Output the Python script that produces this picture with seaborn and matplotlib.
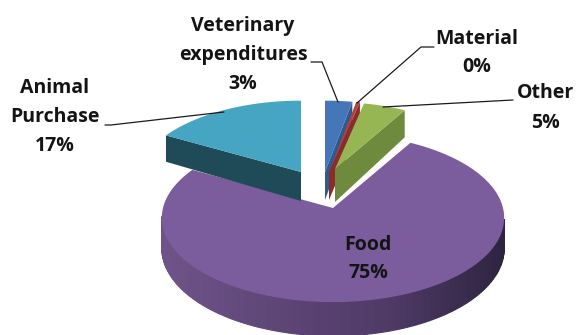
import numpy as np
import matplotlib
matplotlib.use("Agg")
import matplotlib.pyplot as plt
import seaborn as sns

# Cost shares in percent, clockwise from twelve o'clock
categories = ["Veterinary\nexpenditures", "Material", "Other", "Food", "Animal\nPurchase"]
shares = [3, 0.4, 5, 75, 17]
top_colors = ["#4577B8", "#B5403B", "#95B653", "#7B5C9C", "#46A5C3"]
side_colors = ["#2F5A8F", "#8A2C29", "#6E8A3C", "#5A4272", "#1F4A57"]

# Exploded slice layout on the canvas: apex x, apex y, radius scale
apex_x = [325, 329, 335, 333, 301]
apex_y = [172, 172, 169, 208, 172]
radius_scale = [0.96, 0.96, 0.90, 1.00, 0.96]
wall_height = [28, 28, 33, 30, 29]

RX, RY, PERSPECTIVE = 170, 83, 0.117

sns.set_theme(style="white")
plt.rcParams["font.family"] = ["Open Sans", "DejaVu Sans"]
wall_ramp = sns.blend_palette(["#6E5389", "#5E4677", "#4F3A66", "#2E2440"], 200)


def project(theta, ax0, ay0, scale=1.0):
    """Project clockwise angles on the tilted disc to canvas coordinates."""
    u, v = np.sin(theta), np.cos(theta)
    s = scale / (1 + PERSPECTIVE * v)
    return ax0 + RX * u * s, ay0 - RY * v * s, s


fig = plt.figure(figsize=(5.77, 3.35), dpi=100)
ax = fig.add_axes([0, 0, 1, 1])
ax.set_xlim(0, 577)
ax.set_ylim(335, 0)
ax.axis("off")

edges = np.cumsum([0] + shares) / sum(shares) * 2 * np.pi
draw_order = [3, 4, 0, 1, 2]

for z, i in enumerate(draw_order):
    start, end = edges[i], edges[i + 1]
    cx, cy, scale, h = apex_x[i], apex_y[i], radius_scale[i], wall_height[i]
    theta = np.linspace(start, end, 240)
    x, y, s = project(theta, cx, cy, scale)

    if i == 3:
        # Front rim of the large slice, shaded from the lit left side to the dark right side
        for k in range(len(theta) - 1):
            if np.cos(theta[k]) > -PERSPECTIVE:
                continue
            shade = int(np.clip((x[k] - (cx - RX)) / (2 * RX), 0, 1) * 199)
            c = wall_ramp[shade]
            ax.fill(
                [x[k], x[k + 1], x[k + 1], x[k]],
                [y[k], y[k + 1], y[k + 1] + h * s[k + 1], y[k] + h * s[k]],
                facecolor=c, edgecolor=c, lw=0.8, zorder=z * 3 + 1,
            )
    else:
        # Radial cut face that looks toward the viewer
        face = len(theta) - 1 if i != 4 else 0
        px, py = x[face], y[face]
        ax.fill(
            [cx, px, px, cx],
            [cy, py, py + h * s[face], cy + h],
            color=side_colors[i], lw=0, zorder=z * 3 + 1,
        )

    ax.fill(
        np.r_[cx, x], np.r_[cy, y],
        color=top_colors[i], lw=0, zorder=z * 3 + 2,
    )

text_kw = dict(ha="center", va="center", fontsize=14, fontweight="bold",
               color="#141414", linespacing=1.6, zorder=40)
label_x = [243, 477, 545, 368, 55]
label_y = [55, 53, 108, 259, 117]
for name, share, lx, ly in zip(categories, shares, label_x, label_y):
    ax.text(lx, ly, f"{name}\n{share:.0f}%", **text_kw)

# Leader lines from the outer labels to their slices
leaders = [
    ([311, 322, 338], [62, 62, 102]),
    ([434, 421, 357], [47, 47, 103]),
    ([513, 383], [100, 107]),
    ([105, 111, 224], [125, 125, 112]),
]
for lx, ly in leaders:
    ax.plot(lx, ly, color="#1a1a1a", lw=0.9, zorder=30)

fig.savefig("out.png", dpi=100)
